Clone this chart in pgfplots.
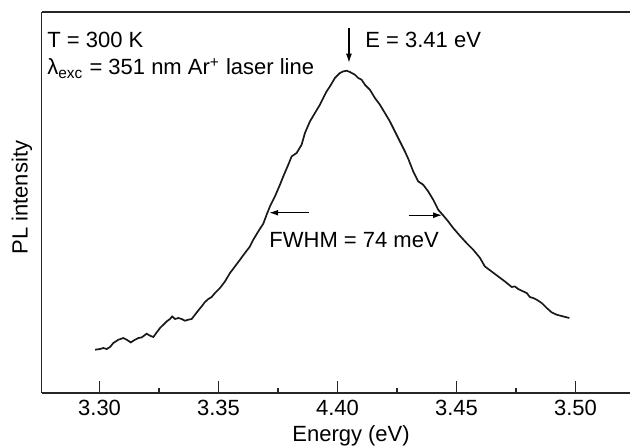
\documentclass[border=0pt]{standalone}
\usepackage{fontspec}
\setmainfont{Liberation Sans}
\usepackage{pgfplots}
\pgfplotsset{compat=1.18}
\usetikzlibrary{arrows.meta}
\begin{document}
\begin{tikzpicture}[font=\fontsize{11}{13}\selectfont]
\begin{axis}[
  at={(0pt,0pt)}, anchor=south west,
  scale only axis, width=294.25pt, height=190.5pt,
  xmin=3.2756, xmax=3.5229, ymin=0, ymax=381,
  axis x line*=box, axis y line*=left,
  x axis line style={-}, y axis line style={-},
  axis line style={line width=0.9pt, black!85},
  xtick={3.30,3.35,3.40,3.45,3.50},
  xticklabels={3.30,3.35,4.40,3.45,3.50},
  minor x tick num=1, ytick=\empty,
  xtick pos=left, xtick align=inside,
  major tick length=6pt, minor tick length=2.5pt,
  tick style={line width=0.6pt, black!85},
  xlabel={Energy (eV)}, ylabel={PL intensity},
  xlabel style={at={(axis description cs:0.526,-0.1136)}, anchor=center},
  ylabel style={at={(axis description cs:-0.0331,0.512)}, anchor=center, rotate=0},
  clip=false,
]
\addplot[line width=0.85pt, black!90] table {
x y
3.2981 43
3.3002 43.7
3.3016 44.7
3.3030 43.7
3.3044 45.7
3.3058 49.7
3.3079 53
3.3100 54.7
3.3114 53
3.3131 50.3
3.3149 53
3.3163 54.7
3.3177 55.3
3.3198 59
3.3212 57
3.3226 55.7
3.3240 60.3
3.3254 64.7
3.3268 68
3.3282 71.3
3.3296 73.7
3.3305 76.3
3.3317 73.7
3.3331 74.7
3.3345 73.7
3.3359 72
3.3373 73
3.3387 73.7
3.3401 78
3.3415 82.3
3.3429 86.3
3.3443 90.7
3.3457 93.7
3.3471 95.7
3.3485 99.7
3.3506 104.7
3.3527 111.3
3.3548 119.7
3.3569 126.3
3.3590 133
3.3611 139.7
3.3632 146.3
3.3646 153
3.3667 161.3
3.3688 169
3.3702 178
3.3716 186.3
3.3737 196.3
3.3758 208
3.3772 216.3
3.3793 228
3.3807 236.3
3.3828 239.7
3.3849 248
3.3863 259.7
3.3884 271.3
3.3905 279.7
3.3926 288
3.3954 301.3
3.3968 306.3
3.3989 314.7
3.4010 319.7
3.4024 321.3
3.4038 322
3.4052 320.7
3.4073 318
3.4087 314.7
3.4101 313
3.4115 308
3.4136 303
3.4157 294.7
3.4178 288
3.4199 279.7
3.4220 271.3
3.4241 261.3
3.4262 251.3
3.4283 241.3
3.4297 234
3.4318 221.3
3.4339 211.3
3.4360 208
3.4381 201.3
3.4402 193
3.4423 183
3.4444 177.3
3.4465 171.3
3.4486 164.7
3.4514 157
3.4542 149.7
3.4570 143
3.4598 135
3.4619 126.3
3.4647 121.3
3.4675 116.3
3.4703 111.3
3.4732 105.7
3.4745 106.3
3.4759 103.7
3.4780 101.3
3.4795 99.7
3.4808 95.7
3.4822 94.7
3.4837 93
3.4858 89.7
3.4879 84.7
3.4900 80.3
3.4921 78
3.4948 76.3
3.4974 74.7
};
\draw[line width=0.6pt, -{Latex[length=4.5pt,width=3pt]}] (axis cs:3.4048,365) -- (axis cs:3.4048,330);
\draw[line width=0.6pt, -{Latex[length=4.5pt,width=3pt]}] (axis cs:3.3881,180) -- (axis cs:3.3713,180);
\draw[line width=0.6pt, -{Latex[length=4.5pt,width=3pt]}] (axis cs:3.4300,177.5) -- (axis cs:3.4439,177.5);
\node[anchor=base west, inner sep=0pt] at (axis description cs:0.0094,0.9073) {T = 300 K};
\node[anchor=base west, inner sep=0pt] at (axis description cs:0.0094,0.8339) {λ\textsubscript{exc} = 351 nm Ar\textsuperscript{+} laser line};
\node[anchor=base west, inner sep=0pt] at (axis description cs:0.5497,0.9073) {E = 3.41 eV};
\node[anchor=base west, inner sep=0pt] at (axis description cs:0.3866,0.3824) {FWHM = 74 meV};
\end{axis}
\pgfresetboundingbox
\path[use as bounding box] (-20.75pt,-27.15pt) rectangle (294.25pt,196.35pt);
\end{tikzpicture}
\end{document}
